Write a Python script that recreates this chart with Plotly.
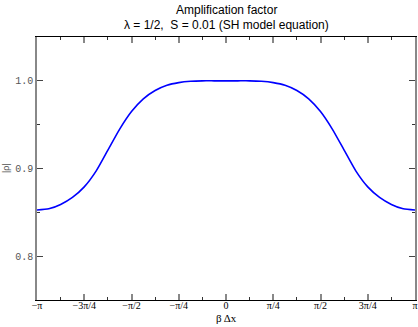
import numpy as np
import plotly.graph_objects as go

# beta*dx in units of pi (left half, mirrored for the right half)
x_left = [-1.0, -0.9375, -0.875, -0.8125, -0.75, -0.6875, -0.625, -0.5625,
          -0.5, -0.4375, -0.375, -0.3125, -0.25, -0.1875, -0.125, -0.0625, 0.0]
rho_left = [0.8526, 0.854, 0.859, 0.867, 0.879, 0.897, 0.921, 0.945,
            0.965, 0.9795, 0.989, 0.995, 0.998, 0.9995, 1.0, 1.0, 1.0]

x_pi = x_left + [-v for v in x_left[-2::-1]]
rho = rho_left + rho_left[-2::-1]
x = [v * np.pi for v in x_pi]

tick_vals = [k * np.pi / 4 for k in range(-4, 5)]
tick_text = ["\u2212\u03c0", "\u22123\u03c0/4", "\u2212\u03c0/2", "\u2212\u03c0/4", "0",
             "\u03c0/4", "\u03c0/2", "3\u03c0/4", "\u03c0"]

fig = go.Figure()
fig.add_trace(go.Scatter(x=x, y=rho, mode="lines",
                         line=dict(color="#0000ff", width=1.6, shape="spline", smoothing=0.6)))

H = 263.0  # plot height in px, used to place the text annotations

def py(pix):
    return (300 - pix) / H

fig.update_layout(
    width=418, height=327,
    margin=dict(l=37, r=3, t=37, b=27, autoexpand=False),
    paper_bgcolor="white", plot_bgcolor="white",
    showlegend=False,
)
fig.add_annotation(text="Amplification factor", xref="paper", yref="paper",
                   x=0.5, y=py(10), xanchor="center", yanchor="middle", showarrow=False,
                   font=dict(family="Liberation Sans", size=12, color="black"))
fig.add_annotation(text="\u03bb = 1/2,  S = 0.01 (SH model equation)", xref="paper", yref="paper",
                   x=0.5, y=py(25), xanchor="center", yanchor="middle", showarrow=False,
                   font=dict(family="Liberation Sans", size=12, color="black"))
fig.add_annotation(text="\u03b2 \u0394x", xref="paper", yref="paper",
                   x=0.5, y=py(318), xanchor="center", yanchor="middle", showarrow=False,
                   font=dict(family="Liberation Serif", size=11, color="black"))
fig.add_annotation(text="|\u03c1|", xref="paper", yref="paper", textangle=-90,
                   x=-31 / 378, y=py(168), xanchor="center", yanchor="middle", showarrow=False,
                   font=dict(family="Liberation Sans", size=9, color="#555"))

fig.update_xaxes(
    range=[-np.pi, np.pi], tickmode="array", tickvals=tick_vals, ticktext=tick_text,
    ticks="inside", ticklen=6, tickwidth=1.5, tickcolor="#888", showline=True,
    linecolor="black", linewidth=1, mirror="allticks", showgrid=False, zeroline=False,
    automargin=False, ticklabelstandoff=-4,
    tickfont=dict(family="Liberation Serif", size=10, color="black"),
    minor=dict(tickvals=[(k + 0.5) * np.pi / 4 for k in range(-4, 4)], ticks="inside",
               ticklen=3, tickwidth=1, tickcolor="#333", showgrid=False),
)
fig.update_yaxes(
    range=[0.75, 1.05], tickmode="array", tickvals=[0.8, 0.9, 1.0],
    ticktext=["0.8", "0.9", "1.0"],
    ticks="inside", ticklen=6, tickwidth=1, tickcolor="#444", showline=True,
    linecolor="#888", linewidth=1.5, mirror="allticks", showgrid=False, zeroline=False,
    automargin=False,
    tickfont=dict(family="Liberation Mono", size=10, color="#555"),
    minor=dict(tickvals=[0.75, 0.85, 0.95, 1.05], ticks="inside", ticklen=3,
               tickwidth=1, tickcolor="#333", showgrid=False),
)

# the page body has a default 8px margin; drop it so the figure sits at the window corner
fig.write_html("out.html", config={"displayModeBar": False},
               post_script="document.body.style.margin='0';")
